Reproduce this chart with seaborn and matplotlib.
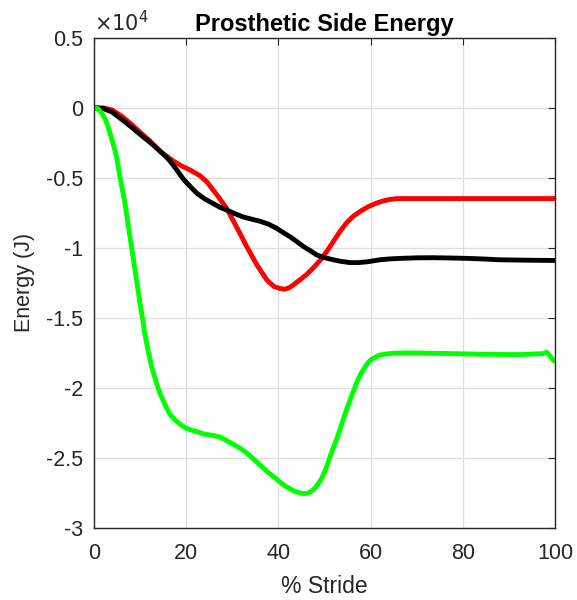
import matplotlib
matplotlib.use("Agg")
import matplotlib.pyplot as plt
import seaborn as sns

# Energy values in units of 1e4 J
red_x = [0, 2.0, 3.9, 6.0, 8.2, 10.0, 11.9, 14.3, 17.2, 19.0, 20.9, 23.0, 24.5,
         25.9, 27.3, 28.8, 30.9, 33.1, 35.3, 37.5, 39.0, 40.3, 41.4, 42.3, 43.2,
         44.6, 46.1, 47.5, 49.0, 50.5, 51.9, 53.3, 54.8, 56.2, 57.7, 59.5, 61.3,
         62.7, 64.0, 65.7, 70, 80, 90, 100]
red_y = [0, 0, -0.015, -0.06, -0.12, -0.175, -0.23, -0.31, -0.38, -0.415, -0.445,
         -0.485, -0.53, -0.59, -0.65, -0.72, -0.85, -0.99, -1.12, -1.23, -1.275,
         -1.29, -1.295, -1.285, -1.265, -1.23, -1.19, -1.145, -1.09, -1.025,
         -0.955, -0.885, -0.82, -0.775, -0.74, -0.705, -0.68, -0.665, -0.655,
         -0.648, -0.648, -0.648, -0.648, -0.648]

black_x = [0, 2.0, 3.9, 6.3, 8.2, 10.0, 11.9, 13.5, 15.0, 16.2, 17.2, 18.3, 19.4,
           20.8, 22.3, 24.0, 25.9, 27.3, 28.8, 30.5, 32.4, 34.2, 36.0, 37.8,
           39.6, 41.0, 42.5, 44.0, 45.4, 46.9, 48.3, 50.0, 51.9, 53.7, 55.5,
           57.3, 59.1, 60.5, 62.0, 64.0, 66.4, 70.0, 73.5, 77.0, 81.0, 85.0,
           88.0, 94.0, 100]
black_y = [0, -0.005, -0.03, -0.09, -0.14, -0.19, -0.24, -0.285, -0.33, -0.37,
           -0.41, -0.46, -0.51, -0.56, -0.61, -0.65, -0.685, -0.71, -0.73,
           -0.755, -0.78, -0.795, -0.81, -0.83, -0.86, -0.89, -0.92, -0.955,
           -0.99, -1.02, -1.05, -1.07, -1.085, -1.097, -1.105, -1.105, -1.10,
           -1.093, -1.085, -1.079, -1.075, -1.071, -1.07, -1.072, -1.075, -1.08,
           -1.085, -1.088, -1.09]

green_x = [0, 0.8, 1.7, 2.5, 3.2, 3.9, 4.5, 5.0, 5.5, 6.0, 6.6, 7.2, 7.7, 8.3,
           8.8, 9.4, 9.9, 10.5, 11.0, 11.7, 12.5, 13.4, 14.3, 15.4, 16.5, 17.6,
           18.7, 19.8, 21.0, 22.0, 23.0, 24.0, 25.0, 26.0, 27.3, 28.4, 29.5,
           30.6, 31.7, 32.9, 34.0, 35.0, 36.0, 37.0, 38.0, 39.2, 40.3, 41.4,
           42.5, 43.6, 44.7, 45.5, 46.3, 47.0, 47.8, 48.5, 49.3, 50.0, 50.7,
           51.4, 52.0, 52.7, 53.4, 54.4, 55.5, 56.3, 57.0, 57.7, 58.4, 59.2,
           60.0, 61.0, 62.0, 63.5, 65.0, 68.0, 72.0, 78.0, 85.0, 92.0, 97.4,
           98.2, 100]
green_y = [0, -0.005, -0.04, -0.086, -0.15, -0.23, -0.30, -0.37, -0.47, -0.56,
           -0.66, -0.79, -0.90, -1.03, -1.14, -1.27, -1.38, -1.50, -1.61, -1.73,
           -1.85, -1.95, -2.04, -2.12, -2.19, -2.23, -2.26, -2.285, -2.30, -2.31,
           -2.32, -2.33, -2.335, -2.34, -2.35, -2.37, -2.39, -2.41, -2.43, -2.46,
           -2.49, -2.52, -2.55, -2.58, -2.61, -2.64, -2.67, -2.70, -2.72, -2.74,
           -2.75, -2.755, -2.752, -2.74, -2.72, -2.69, -2.65, -2.60, -2.54,
           -2.47, -2.42, -2.36, -2.29, -2.19, -2.09, -2.02, -1.96, -1.91, -1.87,
           -1.83, -1.80, -1.78, -1.765, -1.757, -1.752, -1.75, -1.752, -1.755,
           -1.76, -1.762, -1.755, -1.745, -1.815]

x_ticks = [0, 20, 40, 60, 80, 100]
y_ticks = [0.5, 0, -0.5, -1, -1.5, -2, -2.5, -3]
y_tick_labels = ["0.5", "0", "-0.5", "-1", "-1.5", "-2", "-2.5", "-3"]

sns.set_style("white")
plt.rcParams['font.family'] = ['Liberation Sans', 'DejaVu Sans']

fig = plt.figure(figsize=(5.77, 6.0), dpi=100)
ax = fig.add_axes([0.163, 0.12, 0.799, 0.817])

for xs, ys, c in [(red_x, red_y, '#ff0000'),
                  (black_x, black_y, '#000000'),
                  (green_x, green_y, '#00ff00')]:
    sns.lineplot(x=xs, y=ys, color=c, linewidth=3.5, ax=ax, sort=False,
                 solid_joinstyle='round', solid_capstyle='butt')

ax.set_xlim(0, 100)
ax.set_ylim(-3, 0.5)
ax.set_xticks(x_ticks)
ax.set_yticks(y_ticks)
ax.set_yticklabels(y_tick_labels)
ax.grid(True, color='#dedede', linewidth=0.9)
ax.set_axisbelow(True)

for s in ax.spines.values():
    s.set_color('#262626')
    s.set_linewidth(1.0)
    s.set_visible(True)
ax.tick_params(direction='in', length=5, width=0.8, colors='#262626',
               labelsize=15.5, top=True, right=True, labelcolor='#262626')
ax.tick_params(axis='x', pad=11)
ax.tick_params(axis='y', pad=8)

ax.set_xlabel('% Stride', fontsize=16.5, color='#262626', labelpad=8)
ax.set_ylabel('Energy (J)', fontsize=15.5, color='#262626', labelpad=8)
ax.set_title('Prosthetic Side Energy', fontsize=17, fontweight='bold',
             color='#000000', pad=5)
ax.text(0.0, 1.005, r'$\times10^4$', transform=ax.transAxes, fontsize=15,
        color='#262626', ha='left', va='bottom')

fig.savefig('out.png', dpi=100)
